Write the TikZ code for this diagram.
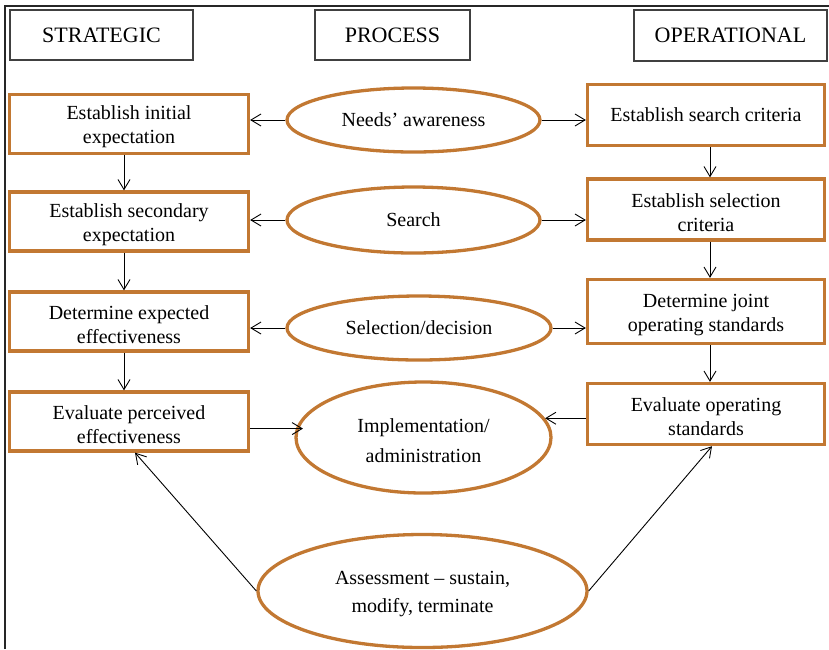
\documentclass[tikz,border=0pt]{standalone}
\usepackage{fontspec}
\setmainfont{Liberation Serif}
\usetikzlibrary{shapes.geometric,arrows.meta}

\definecolor{rim}{RGB}{194,120,50}
\definecolor{headline}{RGB}{64,64,64}

% extra room above the first line, so two-line labels sit a little lower
\newcommand\lowerstrut{\rule{0pt}{19.5pt}}

\tikzset{
  headbox/.style={draw=headline, line width=1.2pt, rectangle, inner sep=0pt,
    font=\fontsize{22}{26}\selectfont},
  stepbox/.style={draw=rim, line width=3.3pt, rectangle, inner sep=0pt, align=center,
    font=\fontsize{20}{24}\selectfont},
  phase/.style={draw=rim, line width=3.3pt, ellipse, inner sep=0pt, align=center,
    font=\fontsize{20}{24}\selectfont},
  arr/.style={line width=0.9pt, -{Straight Barb[length=10pt,width=12pt]}},
  leftbox/.style={stepbox, minimum width=239pt, minimum height=59pt},
  rightbox/.style={stepbox, minimum width=237pt, minimum height=61pt},
}

\begin{document}
\begin{tikzpicture}[x=1pt,y=-1pt]
  \useasboundingbox (0,0) rectangle (829,649);

  % outer frame (top and left rules)
  \draw[line width=1.5pt, black!85] (5,649) -- (5,6) -- (829,6);

  % column headings
  \node[headbox, minimum width=183pt, minimum height=50pt] (hstr) at (101.5,35) {STRATEGIC};
  \node[headbox, minimum width=155pt, minimum height=50pt] (hproc) at (392.5,35) {PROCESS};
  \node[headbox, minimum width=193pt, minimum height=51pt] (hop) at (730.5,35.5) {OPERATIONAL};

  % strategic column
  \node[leftbox] (s1) at (129,124)   {\lowerstrut Establish initial\\expectation};
  \node[leftbox] (s2) at (129,221.5) {\lowerstrut Establish secondary\\expectation};
  \node[leftbox] (s3) at (129,321.5) {\lowerstrut Determine expected\\effectiveness};
  \node[leftbox] (s4) at (129,421.5) {\lowerstrut Evaluate perceived\\effectiveness};

  % operational column
  \node[rightbox] (o1) at (706,115)   {Establish search criteria};
  \node[rightbox] (o2) at (706,209.5) {\lowerstrut Establish selection\\criteria};
  \node[rightbox, minimum height=64pt] (o3) at (706,311.5) {\lowerstrut Determine joint\\operating standards};
  \node[rightbox] (o4) at (706,414)   {\lowerstrut Evaluate operating\\standards};

  % process stages
  \node[phase, minimum width=253pt, minimum height=64pt] (p1) at (413.5,120) {Needs’ awareness};
  \node[phase, minimum width=253pt, minimum height=66pt] (p2) at (413.5,220) {Search};
  \node[phase, minimum width=264pt, minimum height=64pt] (p3) at (419,328) {Selection/decision};
  \node[phase, minimum width=255pt, minimum height=111pt,
        font=\fontsize{20}{30}\selectfont] (p4) at (423.5,437.5)
        {\lowerstrut Implementation/\\administration};
  \node[phase, minimum width=329pt, minimum height=113pt,
        font=\fontsize{20}{28}\selectfont] (p5) at (422.5,591)
        {\lowerstrut Assessment – sustain,\\modify, terminate};

  % process to strategic / operational
  \draw[arr] (p1.west) -- (p1.west -| s1.east);
  \draw[arr] (p1.east) -- (p1.east -| o1.west);
  \draw[arr] (p2.west) -- (p2.west -| s2.east);
  \draw[arr] (p2.east) -- (p2.east -| o2.west);
  \draw[arr] (p3.west) -- (p3.west -| s3.east);
  \draw[arr] (p3.east) -- (p3.east -| o3.west);

  % strategic column flow
  \draw[arr] ([xshift=-5pt]s1.south) -- ([xshift=-5pt]s2.north);
  \draw[arr] ([xshift=-5pt]s2.south) -- ([xshift=-5pt]s3.north);
  \draw[arr] ([xshift=-5pt]s3.south) -- ([xshift=-5pt]s4.north);

  % operational column flow
  \draw[arr] ([xshift=4pt]o1.south) -- ([xshift=4pt]o2.north);
  \draw[arr] ([xshift=4pt]o2.south) -- ([xshift=4pt]o3.north);
  \draw[arr] ([xshift=4pt]o3.south) -- ([xshift=4pt]o4.north);

  % into implementation
  \draw[arr, shorten >=-7pt] (p4.176.8 -| s4.east) -- (p4.176.8);
  \draw[arr] (p4.9 -| o4.west) -- (p4.9);

  % assessment feedback
  \draw[arr] (p5.west) -- ([xshift=6pt]s4.south);
  \draw[arr] (p5.east) -- ([xshift=6pt]o4.south);
\end{tikzpicture}
\end{document}
